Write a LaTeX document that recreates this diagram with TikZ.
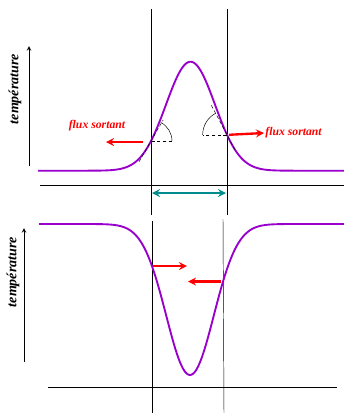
\documentclass[tikz,border=0pt]{standalone}
\usepackage{fontspec}
\setmainfont{Liberation Serif}
\definecolor{courbe}{RGB}{153,0,204}
\definecolor{ecart}{RGB}{0,140,140}
\tikzset{
  declare function={bosse(\x)=170.7-109*exp(-(((\x-190.5)/34.64)^2));
                    creux(\x)=224+151*exp(-(((\x-190)/33.62)^2));},
  temptxt/.style={rotate=90, font=\fontsize{12}{14}\selectfont\bfseries\itshape},
  fluxtxt/.style={red, font=\fontsize{10}{12}\selectfont\bfseries\itshape},
  fluxfl/.style={->, red, line width=2pt},
  trace/.style={courbe, line width=1.6pt, line join=round},
}

\begin{document}
\begin{tikzpicture}[x=0.03cm, y=-0.03cm, >=stealth]
    \useasboundingbox (0,0) rectangle (344,413);
    % Coupe du haut : bosse de température
    \draw (151,9) -- (151,215);
    \draw (227,9) -- (227,215);
    \draw[semithick] (40,185) -- (344,185);
    \draw[->, thick] (29,166) -- (29,46);
    \node[temptxt] (t1) at (15,89) {température};
    \draw[trace, domain=38:344, samples=160] plot (\x, {bosse(\x)});
    \coordinate (c1) at (151, {bosse(151)});
    \coordinate (c2) at (227, {bosse(227)});
    % Tangentes et angles
    \draw[densely dashed] (c1) -- ++(21,0);
    \draw[densely dashed] (c1) ++(240:0.72cm) -- ++(60:1.45cm);
    \draw (c1) ++(0.63cm,0) arc[start angle=0, end angle=62, radius=0.63cm];
    \draw[densely dashed] (c2) -- ++(-24,0);
    \draw[densely dashed] (c2) ++(118:1.0cm) -- ++(298:1.5cm);
    \draw (c2) ++(-0.73cm,0) arc[start angle=180, end angle=118, radius=0.73cm];
    % Flux sortants
    \node[fluxtxt] (fg) at (97,126) {flux sortant};
    \node[fluxtxt, anchor=west, inner xsep=1pt] (fd) at (264,133) {flux sortant};
    \coordinate (fg1) at (143,142);
    \coordinate (fg2) at (106,142);
    \draw[fluxfl] (fg1) -- (fg2);
    \draw[fluxfl] ([xshift=0.06cm]c2) -- (fd.west);
    % Largeur
    \coordinate (l1) at (152,193);
    \coordinate (l2) at (226,193);
    \draw[<->, ecart, line width=2pt] (l1) -- (l2);

    % Coupe du bas : creux de température
    \draw (152,221) -- (152,413);
    \draw (223,219) -- (224,413);
    \draw[semithick] (48,387) -- (337,387);
    \draw[->, thick] (24,362) -- (24,228);
    \node[temptxt] (t2) at (13,272) {température};
    \draw[trace, domain=39:344, samples=160] plot (\x, {creux(\x)});
    \coordinate (d1) at (152, {creux(152)});
    \coordinate (d2) at (223, {creux(223)});
    \coordinate (e1) at (187, {creux(152)});
    \coordinate (e2) at (188, {creux(223)});
    \draw[fluxfl] ([xshift=0.04cm]d1) -- (e1);
    \draw[fluxfl] ([xshift=-0.06cm]d2) -- (e2);
\end{tikzpicture}
\end{document}
